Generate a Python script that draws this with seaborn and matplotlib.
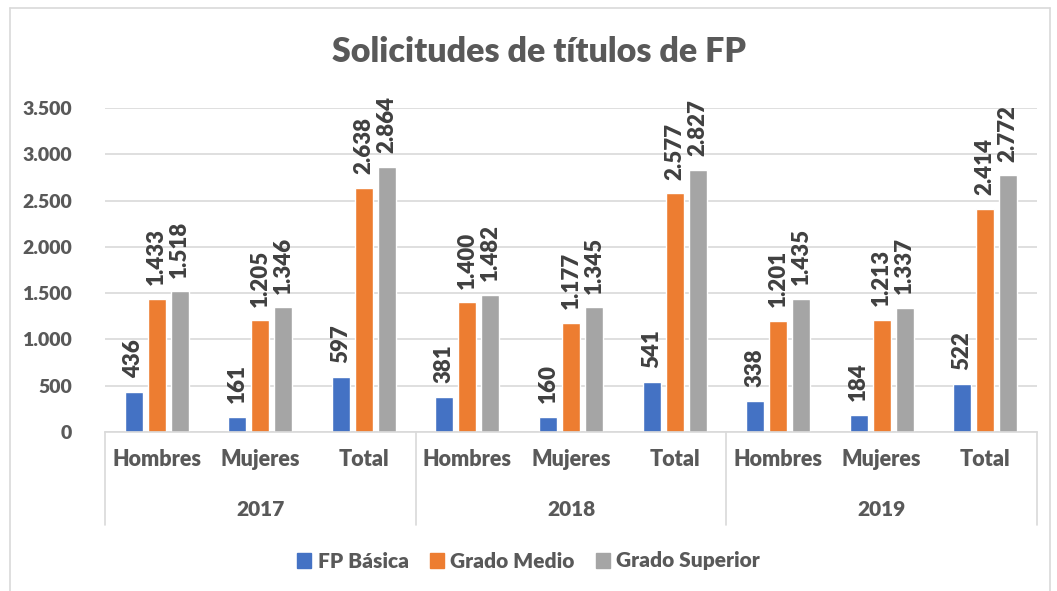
import matplotlib
matplotlib.use("Agg")
import matplotlib.pyplot as plt
import matplotlib.transforms as mtransforms
from matplotlib.lines import Line2D
import pandas as pd
import seaborn as sns

# ---------------------------------------------------------------------------
# Daten
# ---------------------------------------------------------------------------
YEARS = ["2017", "2018", "2019"]
GROUPS = ["Hombres", "Mujeres", "Total"]
SERIES = ["FP Básica", "Grado Medio", "Grado Superior"]

fp_basica = [436, 161, 597, 381, 160, 541, 338, 184, 522]
grado_medio = [1433, 1205, 2638, 1400, 1177, 2577, 1201, 1213, 2414]
grado_superior = [1518, 1346, 2864, 1482, 1345, 2827, 1435, 1337, 2772]

y_ticks = [0, 500, 1000, 1500, 2000, 2500, 3000, 3500]

COLORS = {"FP Básica": "#4472C4", "Grado Medio": "#ED7D31", "Grado Superior": "#A5A5A5"}
TXT = "#595959"
LINE = "#D9D9D9"

sns.set_theme(style="white")
plt.rcParams["font.family"] = ["Lato", "DejaVu Sans"]


def fmt(v):
    return f"{v:,}".replace(",", ".")


cats = [f"{y} {g}" for y in YEARS for g in GROUPS]
rows = []
for name, vals in zip(SERIES, [fp_basica, grado_medio, grado_superior]):
    for c, v in zip(cats, vals):
        rows.append({"cat": c, "serie": name, "valor": v})
df = pd.DataFrame(rows)

fig = plt.figure(figsize=(10.57, 5.91), dpi=100)
ax = fig.add_axes([105 / 1057, 1 - 432 / 591, (1037 - 105) / 1057, 324 / 591])

sns.barplot(data=df, x="cat", y="valor", hue="serie", order=cats,
            hue_order=SERIES, palette=COLORS, width=0.667, gap=0.22,
            saturation=1, legend=False, ax=ax)

for cont in ax.containers:
    ax.bar_label(cont, labels=[fmt(int(b.get_height())) for b in cont],
                 rotation=90, padding=10, fontsize=16, fontweight="heavy",
                 color="#404040", clip_on=False)

ax.set_xlim(-0.5, len(cats) - 0.5)
ax.set_ylim(0, 3500)
ax.set_yticks(y_ticks)
ax.set_yticklabels([fmt(t) for t in y_ticks], fontsize=14, fontweight="heavy", color=TXT)
ax.yaxis.grid(True, color=LINE, linewidth=1.2)
ax.set_axisbelow(True)
ax.tick_params(axis="y", length=0, pad=24)
ax.tick_params(axis="x", length=0, pad=12)
ax.set_xticks(range(len(cats)))
ax.set_xticklabels(GROUPS * len(YEARS), fontsize=15.5, fontweight="heavy", color=TXT)
ax.set_xlabel("")
ax.set_ylabel("")
for s in ["top", "right", "left"]:
    ax.spines[s].set_visible(False)
ax.spines["bottom"].set_color(LINE)
ax.spines["bottom"].set_linewidth(1.2)

# Gruppenbeschriftung (Jahre) und Trennlinien
trans = mtransforms.blended_transform_factory(ax.transData, ax.transAxes)
y_bot = -(525 - 432) / 324
for i in range(len(YEARS) + 1):
    x = i * len(GROUPS) - 0.5
    ax.add_line(Line2D([x, x], [0, y_bot], transform=trans, color=LINE,
                       linewidth=1.2, clip_on=False))
for i, y in enumerate(YEARS):
    ax.text(i * len(GROUPS) + 1, -(509 - 432) / 324, y, transform=trans,
            ha="center", va="center", fontsize=15, fontweight="heavy", color=TXT)

fig.suptitle("Solicitudes de títulos de FP", x=539 / 1057, y=1 - 52 / 591, va="center",
             fontsize=24.5, fontweight="heavy", color=TXT)

handles = [plt.Rectangle((0, 0), 1, 1, color=COLORS[s]) for s in SERIES]
leg = fig.legend(handles, SERIES, loc="center", bbox_to_anchor=(0.5, 1 - 561 / 591),
                 ncol=3, frameon=False, handlelength=0.7, handleheight=0.7,
                 handletextpad=0.3, columnspacing=1.0,
                 prop={"size": 15, "weight": "heavy"})
for t in leg.get_texts():
    t.set_color(TXT)

# Rahmen
for xs, ys in [([10, 10], [0, 583]), ([10, 1050], [583, 583]), ([1050, 1050], [0, 583])]:
    fig.add_artist(Line2D([x / 1057 for x in xs], [y / 591 for y in ys],
                          transform=fig.transFigure, color=LINE, linewidth=1.2))

fig.savefig("out.png", dpi=100)
